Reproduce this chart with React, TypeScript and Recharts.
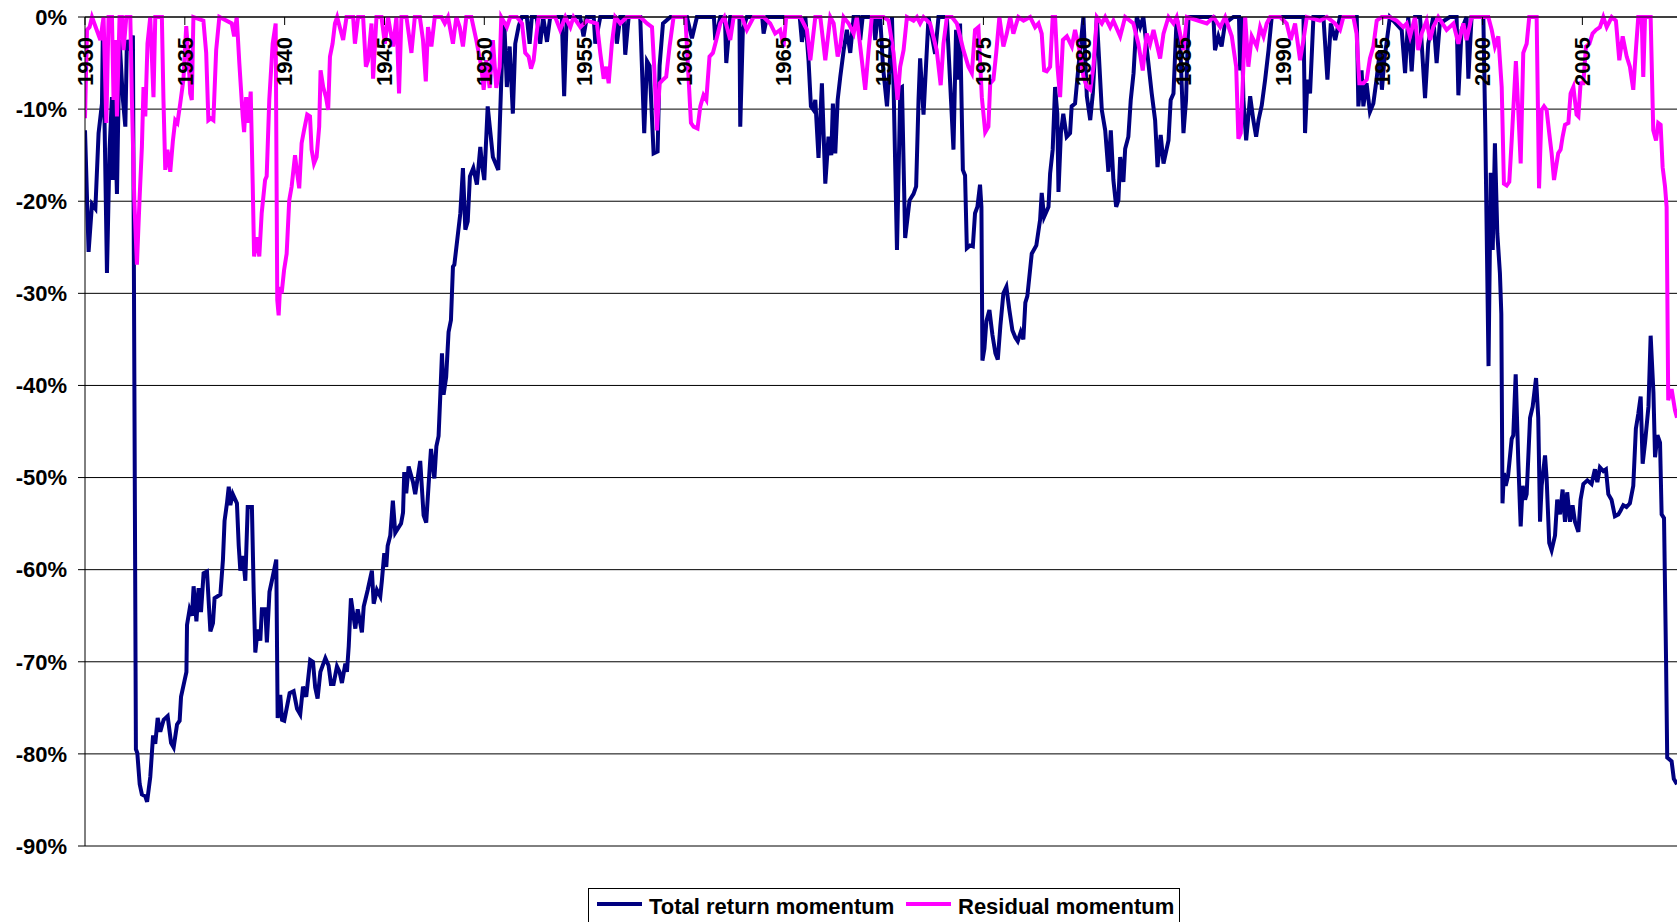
import { CartesianGrid, Line, LineChart, XAxis, YAxis } from "recharts";

// drawdowns in %; dates are fractional years
const totalDates = [
  1930.00, 1930.18, 1930.35, 1930.52, 1930.68, 1930.85, 1930.90, 1931.10, 1931.23, 1931.35,
  1931.40, 1931.48, 1931.60, 1931.73, 1931.90, 1932.02, 1932.10, 1932.23, 1932.40, 1932.55,
  1932.62, 1932.74, 1932.85, 1933.02, 1933.11, 1933.27, 1933.41, 1933.52, 1933.64, 1933.77,
  1933.94, 1934.14, 1934.31, 1934.44, 1934.61, 1934.74, 1934.81, 1934.98, 1935.08, 1935.11,
  1935.24, 1935.36, 1935.44, 1935.58, 1935.69, 1935.81, 1935.94, 1936.11, 1936.28, 1936.41,
  1936.49, 1936.78, 1936.91, 1936.99, 1937.11, 1937.20, 1937.28, 1937.40, 1937.61, 1937.70,
  1937.78, 1937.91, 1938.03, 1938.15, 1938.36, 1938.45, 1938.53, 1938.65, 1938.78, 1938.86,
  1939.03, 1939.11, 1939.24, 1939.36, 1939.58, 1939.65, 1939.78, 1939.87, 1939.98, 1940.25,
  1940.45, 1940.62, 1940.78, 1940.92, 1941.08, 1941.28, 1941.42, 1941.53, 1941.65, 1941.79,
  1942.04, 1942.20, 1942.32, 1942.45, 1942.62, 1942.75, 1942.87, 1943.04, 1943.12, 1943.21,
  1943.32, 1943.54, 1943.66, 1943.87, 1943.96, 1944.16, 1944.37, 1944.46, 1944.62, 1944.79,
  1944.87, 1944.99, 1945.09, 1945.16, 1945.29, 1945.42, 1945.54, 1945.83, 1945.93, 1945.99,
  1946.09, 1946.21, 1946.43, 1946.54, 1946.79, 1946.96, 1947.09, 1947.21, 1947.33, 1947.50,
  1947.60, 1947.71, 1947.79, 1947.88, 1947.96, 1948.09, 1948.21, 1948.33, 1948.43, 1948.50,
  1948.80, 1948.93, 1949.05, 1949.17, 1949.28, 1949.45, 1949.63, 1949.80, 1949.88, 1950.00,
  1950.17, 1950.43, 1950.70, 1950.93, 1951.00, 1951.13, 1951.27, 1951.43, 1951.55, 1951.72,
  1951.88, 1952.13, 1952.27, 1952.38, 1952.62, 1952.80, 1952.95, 1953.14, 1953.30, 1953.88,
  1954.00, 1954.13, 1954.80, 1954.97, 1955.14, 1955.48, 1955.56, 1955.81, 1956.55, 1956.64, 1956.81, 1956.98, 1957.06,
  1957.23, 1957.81, 1958.01, 1958.15, 1958.28, 1958.48, 1958.68, 1958.78, 1958.95, 1959.32,
  1960.15, 1960.40, 1960.65, 1961.50, 1961.57, 1961.82, 1962.05, 1962.12, 1962.32, 1962.78, 1962.82, 1962.95,
  1963.15, 1963.92, 1963.99, 1964.16, 1965.80, 1965.91, 1966.08, 1966.24, 1966.36, 1966.49, 1966.58,
  1966.74, 1966.91, 1967.08, 1967.24, 1967.38, 1967.46, 1967.58, 1967.70, 1967.83, 1968.00,
  1968.16, 1968.33, 1968.50, 1968.75, 1968.83, 1968.95, 1969.08, 1969.50, 1969.58, 1969.70, 1969.83, 1969.97, 1970.17, 1970.30,
  1970.42, 1970.50, 1970.67, 1970.84, 1970.92, 1971.08, 1971.30, 1971.50, 1971.63, 1971.75,
  1971.83, 1972.00, 1972.25, 1972.58, 1972.75, 1973.17, 1973.50, 1973.63, 1973.75, 1973.83,
  1973.97, 1974.08, 1974.17, 1974.33, 1974.47, 1974.58, 1974.70, 1974.83, 1974.90, 1974.95,
  1975.05, 1975.15, 1975.30, 1975.45, 1975.60, 1975.72, 1975.85, 1976.00, 1976.15, 1976.30,
  1976.45, 1976.60, 1976.72, 1976.87, 1977.00, 1977.10, 1977.20, 1977.42, 1977.65, 1977.84,
  1977.92, 1978.04, 1978.26, 1978.34, 1978.47, 1978.59, 1978.70, 1978.76, 1978.88, 1979.00,
  1979.17, 1979.34, 1979.42, 1979.59, 1979.76, 1980.01, 1980.18, 1980.35, 1980.48, 1980.68,
  1980.93, 1981.10, 1981.26, 1981.38, 1981.51, 1981.65, 1981.76, 1981.85, 1982.01, 1982.10,
  1982.26, 1982.38, 1982.52, 1982.68, 1982.85, 1983.01, 1983.43, 1983.60, 1983.72, 1983.88,
  1984.02, 1984.27, 1984.38, 1984.52, 1984.68, 1984.85, 1985.02, 1985.15, 1985.27, 1985.85,
  1986.52, 1986.60, 1986.77, 1986.93, 1987.10, 1987.52, 1987.80, 1987.86, 1987.94, 1988.02, 1988.16, 1988.36,
  1988.52, 1988.66, 1988.78, 1988.94, 1989.11, 1989.28, 1989.44, 1991.03, 1991.11, 1991.23,
  1991.36, 1991.53, 1992.03, 1992.23, 1992.40, 1992.62, 1992.86, 1993.70, 1993.78, 1993.94,
  1994.03, 1994.19, 1994.36, 1994.53, 1994.69, 1994.86, 1994.96, 1995.08, 1995.36, 1995.95,
  1996.12, 1996.28, 1996.45, 1996.62, 1996.87, 1997.12, 1997.28, 1997.53, 1997.70, 1997.86,
  1998.36, 1998.70, 1998.79, 1998.95, 1999.20, 1999.29, 1999.45, 2000.04, 2000.14, 2000.30, 2000.41, 2000.51,
  2000.62, 2000.74, 2000.87, 2000.94, 2001.00, 2001.07, 2001.16, 2001.28, 2001.46, 2001.54,
  2001.66, 2001.79, 2001.91, 2002.01, 2002.13, 2002.21, 2002.38, 2002.51, 2002.68, 2002.79,
  2002.88, 2002.96, 2003.13, 2003.21, 2003.34, 2003.46, 2003.63, 2003.74, 2003.88, 2004.01,
  2004.13, 2004.24, 2004.38, 2004.51, 2004.63, 2004.80, 2004.91, 2005.05, 2005.25, 2005.46,
  2005.63, 2005.75, 2005.88, 2006.05, 2006.18, 2006.30, 2006.46, 2006.63, 2006.80, 2006.91,
  2007.05, 2007.21, 2007.38, 2007.55, 2007.68, 2007.80, 2007.92, 2008.02, 2008.14, 2008.31,
  2008.42, 2008.56, 2008.64, 2008.76, 2008.89, 2008.97, 2009.09, 2009.19, 2009.25, 2009.47,
  2009.58, 2009.74,
];
const totalValues = [
  -12.3, -25.5, -20.3, -20.8, -12.6, -9.4, -0.5, -27.8, -14.4, -8.7,
  -17.7, -9.0, -19.2, -2.5, -9.0, -11.9, -2.5, -3.6, -2.0, -79.5,
  -79.9, -83.3, -84.4, -84.6, -85.2, -82.5, -78.0, -78.9, -76.1, -77.6,
  -76.3, -75.9, -78.8, -79.3, -76.8, -76.4, -73.8, -72.1, -71.1, -66.0,
  -64.3, -65.0, -61.8, -65.6, -62.0, -64.6, -60.4, -60.2, -66.7, -65.8,
  -63.1, -62.7, -58.9, -54.7, -52.8, -51.0, -53.0, -51.8, -52.8, -57.4,
  -60.1, -58.5, -61.2, -53.2, -53.2, -62.4, -69.0, -66.5, -67.7, -64.3,
  -64.3, -67.9, -62.4, -61.2, -58.9, -76.1, -73.6, -76.3, -76.4, -73.4,
  -73.2, -75.1, -75.7, -72.7, -73.8, -69.8, -70.0, -72.8, -74.0, -71.1,
  -69.6, -70.4, -72.4, -72.4, -70.5, -71.1, -72.3, -70.2, -71.1, -68.3,
  -63.1, -66.4, -64.3, -66.8, -64.0, -62.2, -60.1, -63.7, -62.2, -62.9,
  -61.2, -58.2, -59.7, -57.4, -56.3, -52.5, -56.0, -55.0, -53.8, -49.4,
  -51.7, -48.8, -50.5, -51.8, -48.2, -54.1, -54.9, -50.8, -46.9, -50.1,
  -46.6, -45.5, -41.4, -36.5, -41.0, -39.1, -34.2, -32.9, -27.1, -26.9,
  -21.3, -16.4, -23.1, -22.2, -17.3, -16.4, -18.2, -14.1, -15.9, -17.7,
  -9.7, -15.2, -16.6, -1.8, -0.5, -7.6, -3.2, -10.5, -2.9, -1.0,
  0, 0, -2.9, 0, 0, -2.9, 0, -2.7, 0, 0,
  -8.6, 0, 0, -2.1, 0, 0, -2.9, 0, 0, -2.9, 0, 0, -4.1,
  0, 0, -12.6, -4.8, -5.3, -14.8, -14.6, -5.3, -0.7, 0,
  0, -2.3, 0, 0, -2.5, 0, 0, -5.0, 0, 0, -11.9, -1.4,
  0, 0, -1.8, 0, 0, -2.7, 0, -4.7, -9.7, -10.1, -9.0,
  -15.3, -7.2, -18.1, -13.0, -15.0, -9.4, -14.8, -9.0, -6.5, -3.6,
  -1.4, -3.9, 0, 0, -2.5, 0, 0, 0, -2.5, 0, 0, -5.4, -9.7, -5.4,
  0, -7.6, -25.3, -7.7, -7.6, -24.0, -19.9, -19.2, -18.4, -9.0,
  -4.5, -10.6, 0, -4.0, 0, 0, -14.4, -1.4, -6.8, -0.7,
  -16.6, -17.2, -25.1, -24.8, -24.9, -21.3, -20.6, -18.2, -20.6, -37.3,
  -36.0, -33.0, -31.8, -34.5, -36.5, -37.2, -33.5, -30.0, -29.3, -31.8,
  -34.0, -34.8, -35.2, -34.2, -35.0, -31.0, -30.3, -25.7, -24.8, -22.0,
  -19.1, -21.7, -20.6, -17.0, -14.4, -7.6, -10.5, -19.0, -12.6, -10.5,
  -13.0, -12.6, -9.7, -9.4, -5.4, 0, -8.6, -11.2, -8.3, 0,
  -10.1, -12.3, -16.8, -12.3, -17.7, -20.6, -19.9, -15.2, -17.9, -14.3,
  -13.0, -9.0, -6.1, 0, -1.1, 0, -8.3, -11.2, -16.3, -12.8,
  -15.9, -13.4, -9.0, -8.3, 0, -2.5, -12.6, -9.0, 0, 0,
  0, -3.6, -2.1, -3.2, -0.7, 0, 0, -5.8, 0, -8.9, -13.4, -8.6,
  -11.2, -13.0, -11.2, -9.6, -6.8, -3.6, 0, 0, -12.6, -6.8,
  -8.3, 0, 0, -6.8, -0.7, -2.5, 0, 0, -9.7, -5.8,
  -9.7, -7.2, -10.3, -9.4, -6.8, -3.6, -7.9, -4.7, 0, -1.4,
  -6.1, 0, -5.9, 0, 0, -8.8, -2.9, 0, -5.0, -0.7,
  0, 0, -8.5, -1.4, 0, -6.7, 0, 0, -12.6, -37.9, -16.9, -25.3,
  -13.7, -23.5, -27.8, -32.2, -52.8, -49.5, -50.9, -49.8, -45.8, -45.4,
  -38.8, -48.2, -55.3, -50.9, -52.4, -51.8, -43.5, -42.3, -39.2, -43.5,
  -54.8, -50.9, -47.6, -50.1, -57.1, -57.9, -56.3, -52.4, -54.0, -51.3,
  -54.8, -51.6, -54.8, -53.0, -54.8, -55.9, -52.4, -50.7, -50.3, -50.7,
  -49.1, -50.5, -48.9, -49.3, -49.1, -51.8, -52.4, -54.2, -54.0, -53.6,
  -53.0, -53.2, -52.8, -50.9, -44.7, -43.1, -41.2, -48.5, -46.2, -42.3,
  -34.6, -40.8, -47.8, -45.4, -46.2, -54.0, -54.4, -69.5, -80.4, -80.8,
  -82.7, -83.3,
];

const residualDates = [
  1930.00, 1930.10, 1930.23, 1930.35, 1930.77, 1930.93, 1931.07, 1931.18, 1931.35, 1931.43,
  1931.52, 1931.60, 1931.73, 1931.85, 1931.93, 1932.07, 1932.27, 1932.35, 1932.47, 1932.60,
  1932.73, 1932.85, 1932.93, 1933.02, 1933.13, 1933.27, 1933.43, 1933.52, 1933.85, 1933.93,
  1934.02, 1934.13, 1934.27, 1934.40, 1934.52, 1934.63, 1934.77, 1934.93, 1935.07, 1935.18,
  1935.27, 1935.35, 1935.43, 1935.93, 1936.07, 1936.18, 1936.30, 1936.43, 1936.57, 1936.73,
  1937.35, 1937.47, 1937.60, 1937.73, 1937.90, 1937.97, 1938.07, 1938.18, 1938.30, 1938.40,
  1938.47, 1938.60, 1938.73, 1938.85, 1939.02, 1939.10, 1939.23, 1939.40, 1939.55, 1939.63,
  1939.70, 1939.77, 1939.85, 1939.97, 1940.10, 1940.23, 1940.35, 1940.52, 1940.63, 1940.73,
  1940.85, 1940.97, 1941.13, 1941.27, 1941.35, 1941.47, 1941.60, 1941.73, 1941.80, 1941.93,
  1942.07, 1942.18, 1942.27, 1942.40, 1942.52, 1942.63, 1942.93, 1943.10, 1943.43, 1943.52,
  1943.68, 1943.93, 1944.07, 1944.18, 1944.35, 1944.43, 1944.60, 1944.85, 1945.02, 1945.18,
  1945.43, 1945.60, 1945.73, 1945.85, 1946.10, 1946.35, 1946.52, 1946.77, 1946.93, 1947.07,
  1947.18, 1947.35, 1947.52, 1947.85, 1948.02, 1948.18, 1948.43, 1948.60, 1948.77, 1948.93,
  1949.10, 1949.35, 1949.60, 1949.85, 1949.97, 1950.10, 1950.27, 1950.43, 1950.60, 1950.77,
  1950.85, 1951.13, 1951.30, 1951.63, 1951.89, 1952.05, 1952.22, 1952.34, 1952.47, 1952.60,
  1952.72, 1953.55, 1953.80, 1954.06, 1954.31, 1954.47, 1954.81, 1955.14, 1955.64, 1955.81,
  1955.98, 1956.11, 1956.23, 1956.39, 1956.56, 1956.81, 1957.14, 1957.81, 1958.15, 1958.40,
  1958.51, 1958.65, 1958.78, 1958.95, 1959.11, 1959.28, 1959.48, 1960.07, 1960.23, 1960.35,
  1960.48, 1960.68, 1960.82, 1960.98, 1961.12, 1961.28, 1961.45, 1961.62, 1961.82, 1962.02,
  1962.32, 1962.49, 1962.90, 1963.15, 1963.49, 1963.99, 1964.32, 1964.57, 1964.82, 1964.99,
  1965.12, 1965.83, 1966.16, 1966.33, 1966.58, 1966.83, 1967.08, 1967.33, 1967.50, 1967.70,
  1967.83, 1968.00, 1968.25, 1968.50, 1968.66, 1968.91, 1969.08, 1969.25, 1969.41, 1970.00,
  1970.25, 1970.50, 1970.70, 1970.83, 1971.00, 1971.17, 1971.50, 1971.67, 1971.83, 1972.00,
  1972.33, 1972.66, 1972.86, 1973.00, 1973.17, 1973.42, 1973.67, 1973.83, 1974.00, 1974.25,
  1974.42, 1974.58, 1974.75, 1974.92, 1975.09, 1975.25, 1975.34, 1975.50, 1975.64, 1975.80,
  1976.00, 1976.17, 1976.34, 1976.50, 1976.75, 1977.01, 1977.34, 1977.59, 1977.76, 1977.92,
  1978.04, 1978.17, 1978.34, 1978.47, 1978.59, 1978.71, 1978.84, 1978.98, 1979.18, 1979.43,
  1979.59, 1979.84, 1980.01, 1980.18, 1980.35, 1980.51, 1980.68, 1980.93, 1981.10, 1981.35,
  1981.51, 1981.85, 1982.10, 1982.51, 1982.76, 1982.98, 1983.18, 1983.35, 1983.52, 1983.68,
  1983.85, 1984.02, 1984.27, 1984.52, 1984.68, 1985.02, 1985.19, 1986.19, 1986.52, 1986.86,
  1987.11, 1987.44, 1987.66, 1987.77, 1987.89, 1988.02, 1988.11, 1988.27, 1988.44, 1988.69,
  1988.86, 1989.03, 1989.19, 1989.36, 1989.86, 1990.19, 1990.39, 1990.61, 1990.86, 1991.03,
  1991.20, 1991.86, 1992.20, 1992.61, 1992.86, 1993.03, 1993.53, 1993.69, 1993.83, 1994.03,
  1994.20, 1994.36, 1994.53, 1994.70, 1994.95, 1995.36, 1995.70, 1996.03, 1996.20, 1996.37,
  1996.62, 1996.78, 1996.95, 1997.20, 1997.37, 1997.53, 1997.78, 1998.20, 1998.54, 1998.79,
  1999.04, 1999.20, 1999.45, 2000.29, 2000.46, 2000.62, 2000.79, 2000.96, 2001.07, 2001.21,
  2001.34, 2001.46, 2001.67, 2001.79, 2001.91, 2002.04, 2002.21, 2002.34, 2002.71, 2002.83,
  2002.96, 2003.08, 2003.21, 2003.34, 2003.46, 2003.58, 2003.68, 2003.79, 2003.91, 2004.01,
  2004.13, 2004.30, 2004.41, 2004.55, 2004.71, 2004.80, 2004.91, 2005.05, 2005.18, 2005.35,
  2005.51, 2005.68, 2005.88, 2006.05, 2006.22, 2006.47, 2006.68, 2006.85, 2007.02, 2007.22,
  2007.38, 2007.55, 2007.68, 2007.80, 2007.97, 2008.05, 2008.14, 2008.42, 2008.55, 2008.69,
  2008.80, 2008.92, 2009.02, 2009.14, 2009.22, 2009.30, 2009.47, 2009.64, 2009.74,
];
const residualValues = [
  -11.0, -1.4, -1.1, 0, -2.5, 0, -11.5, 0, 0, -9.0,
  -2.5, -10.8, 0, 0, -3.6, 0, 0, -9.0, -19.9, -26.9,
  -19.9, -14.1, -7.6, -10.8, -2.9, 0, -8.7, 0, 0, -9.0,
  -16.6, -14.4, -16.8, -13.5, -11.2, -11.5, -9.4, -6.8, -1.0, -4.3,
  -8.3, -9.0, 0, -0.4, -3.9, -11.2, -11.0, -11.2, -3.6, 0,
  -0.7, -2.1, 0, -5.0, -10.8, -12.5, -8.7, -11.5, -8.1, -18.1,
  -26.0, -23.9, -26.0, -21.3, -17.7, -17.3, -9.0, -2.9, -0.7, -30.7,
  -32.4, -29.3, -30.0, -27.5, -25.7, -19.9, -18.4, -15.0, -17.0, -18.6,
  -13.7, -12.3, -10.6, -10.8, -14.4, -15.9, -15.2, -11.9, -5.8, -7.6,
  -8.7, -10.1, -4.3, -2.9, -0.7, 0, -2.5, 0, 0, -2.9,
  0, 0, -5.4, -4.7, -0.7, -6.7, 0, 0, -2.9, 0,
  -3.2, 0, -8.3, 0, 0, -3.9, 0, 0, -2.5, -7.0,
  -1.1, -3.2, 0, 0, -0.7, 0, -2.9, 0, -1.1, -3.2,
  0, 0, -2.5, -5.4, -7.9, -4.7, -7.7, -2.5, -7.7, -5.4,
  0, -1.1, 0, 0, -0.7, -3.9, -4.3, -5.6, -4.7, -2.1,
  0, 0, -1.4, 0, -1.1, 0, -1.1, -0.4, -0.7, -3.9,
  -6.7, -5.4, -7.2, -2.9, 0, -0.7, 0, 0, -0.7, -1.1,
  -5.4, -12.3, -7.2, -6.8, -6.5, -3.2, 0, 0, -6.5, -11.5,
  -11.9, -12.1, -9.7, -8.5, -9.0, -4.3, -3.9, -2.5, -0.7, 0,
  -2.5, 0, 0, -1.4, 0, 0, -0.7, -1.8, -1.4, -3.2,
  0, 0, -1.4, -4.7, 0, 0, -4.7, 0, -0.7, -4.3,
  -3.2, 0, -0.7, -1.8, 0, -4.7, -7.9, -3.6, 0, 0,
  -0.4, -3.9, -9.0, -5.4, -3.6, 0, -0.4, 0, -0.7, 0,
  -0.7, -3.6, -7.4, -2.9, 0, 0, -0.7, -2.1, -3.6, -5.4,
  -6.1, -1.4, -1.1, -8.7, -12.5, -11.9, -7.2, -6.8, -3.9, 0,
  -3.2, -1.8, 0, -1.8, 0, -0.4, 0, -1.1, -0.7, -1.8,
  -5.8, -5.9, -5.4, 0, 0, -5.4, -8.7, -2.5, -2.1, -3.2,
  -1.4, -3.9, -6.5, -7.6, -7.9, -5.4, 0, -0.7, 0, -1.1,
  -0.4, -2.1, 0, -0.7, -2.9, -5.8, -1.8, -2.9, -1.4, -2.9,
  -4.5, -1.8, 0, -0.7, 0, -3.6, 0, -0.7, 0, -1.1,
  0, -2.1, -5.4, -13.2, -12.6, -5.4, 0, -5.4, -2.1, -3.2,
  -1.1, -2.1, -0.7, 0, 0, -0.7, -2.5, -0.7, -4.7, -2.5,
  0, -0.4, 0, -0.7, -1.4, 0, 0, -1.8, -7.2, -7.2,
  -6.8, -4.5, -3.2, -0.4, 0, 0, -0.4, -1.1, -0.7, -2.1,
  0, -3.6, -1.8, -0.4, -2.5, -1.1, 0, -1.4, -0.7, -2.9,
  -0.7, -2.5, 0, 0, -1.4, -3.2, -2.1, -7.6, -18.1, -18.3,
  -17.9, -13.4, -4.8, -10.1, -15.9, -3.9, -2.9, 0, 0, -18.6,
  -10.1, -9.7, -10.1, -12.6, -14.8, -17.7, -16.3, -14.8, -14.4, -13.0,
  -11.7, -11.5, -8.3, -7.6, -10.6, -10.8, -7.2, -7.2, -3.2, -2.9,
  -1.8, -1.4, -1.1, 0, -1.1, 0, -0.4, -4.7, -2.1, -4.3,
  -5.4, -7.9, -3.6, 0, 0, -6.5, 0, 0, -12.3, -13.4,
  -11.5, -11.7, -16.3, -18.4, -20.6, -41.6, -40.4, -42.7, -43.5,
];

const yearTicks = [1930, 1935, 1940, 1945, 1950, 1955, 1960, 1965, 1970, 1975, 1980, 1985, 1990, 1995, 2000, 2005];
const pctTicks = [0, -10, -20, -30, -40, -50, -60, -70, -80, -90];
const seriesNames = ["Total return momentum", "Residual momentum"];

const NAVY = "#000080";
const MAGENTA = "#FF00FF";
const FONT = "'Liberation Sans', Arial, sans-serif";
const W = 1677;
const H = 922;
const M = { top: 17, right: 0, bottom: 76, left: 0 };

const zip = (xs: number[], ys: number[]) => xs.map((x, i) => ({ x, v: ys[i] }));
const totalData = zip(totalDates, totalValues);
const residualData = zip(residualDates, residualValues);

// year labels sit inside the plot, rotated, hanging from the top axis
function YearTick(props: any) {
  const { x, payload } = props;
  const y = M.top + 20;
  return (
    <text
      x={x}
      y={y}
      dy="0.35em"
      textAnchor="end"
      transform={`rotate(-90 ${x} ${y})`}
      fontSize={22}
      fontWeight="bold"
      fontFamily={FONT}
      fill="#000"
    >
      {payload.value}
    </text>
  );
}

function LegendBox() {
  const text = { position: "absolute" as const, top: 7, fontSize: 22, lineHeight: "22px", fontWeight: 700, fontFamily: FONT, color: "#000", whiteSpace: "nowrap" as const };
  const swatch = { position: "absolute" as const, top: 13, width: 45, height: 4 };
  return (
    <div style={{ position: "absolute", left: 588, top: 888, width: 590, height: 40, border: "1px solid #000", background: "#fff" }}>
      <span style={{ ...swatch, left: 8, background: NAVY }} />
      <span style={{ ...text, left: 60 }}>{seriesNames[0]}</span>
      <span style={{ ...swatch, left: 317, background: MAGENTA }} />
      <span style={{ ...text, left: 369 }}>{seriesNames[1]}</span>
    </div>
  );
}

export default function App() {
  return (
    <div style={{ position: "absolute", left: 0, top: 0, width: W, height: H, overflow: "hidden", background: "#fff" }}>
      <LineChart width={W} height={H} margin={M}>
        <CartesianGrid vertical={false} stroke="#000" />
        <XAxis
          type="number"
          dataKey="x"
          orientation="top"
          mirror
          domain={[1930, 2009.74]}
          ticks={yearTicks}
          interval={0}
          allowDataOverflow
          tick={YearTick}
          tickSize={8}
          axisLine={{ stroke: "#000" }}
          tickLine={{ stroke: "#000" }}
        />
        <YAxis
          type="number"
          domain={[-90, 0]}
          ticks={pctTicks}
          interval={0}
          width={85}
          tickSize={7}
          tickMargin={11}
          tickFormatter={(v: number) => `${v}%`}
          tick={{ fontSize: 22, fontWeight: "bold", fill: "#000", fontFamily: FONT }}
          axisLine={{ stroke: "#000" }}
          tickLine={{ stroke: "#000" }}
        />
        <Line data={totalData} dataKey="v" name={seriesNames[0]} type="linear" stroke={NAVY} strokeWidth={4} dot={false} isAnimationActive={false} />
        <Line data={residualData} dataKey="v" name={seriesNames[1]} type="linear" stroke={MAGENTA} strokeWidth={4} dot={false} isAnimationActive={false} />
      </LineChart>
      <LegendBox />
    </div>
  );
}
